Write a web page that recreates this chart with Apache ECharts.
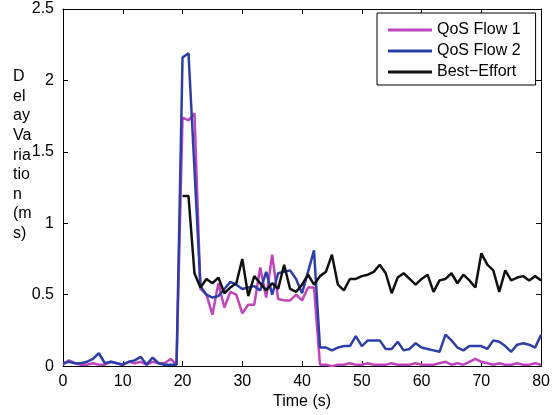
<!DOCTYPE html>
<html>
<head>
<meta charset="utf-8">
<script src="https://cdn.jsdelivr.net/npm/echarts@6/dist/echarts.min.js"></script>
<style>
  html, body { margin: 0; padding: 0; background: #fff; }
  #chart { width: 553px; height: 415px; }
</style>
</head>
<body>
<div id="chart"></div>
<script>
// Sample times (s), one sample per second
const seconds = [0,1,2,3,4,5,6,7,8,9,10,11,12,13,14,15,16,17,18,19,20,
  21,22,23,24,25,26,27,28,29,30,31,32,33,34,35,36,37,38,39,40,
  41,42,43,44,45,46,47,48,49,50,51,52,53,54,55,56,57,58,59,60,
  61,62,63,64,65,66,67,68,69,70,71,72,73,74,75,76,77,78,79,80];

// Delay variation (ms) per flow
const qosFlow1 = [0.01,0.04,0.02,0.01,0.01,0.02,0.01,0.01,0.03,0.02,0.01,
  0.03,0.02,0.03,0.01,0.03,0.02,0.02,0.05,0.01,1.74,
  1.72,1.77,0.54,0.50,0.36,0.58,0.41,0.52,0.50,0.37,
  0.43,0.43,0.69,0.48,0.78,0.47,0.46,0.46,0.50,0.46,
  0.55,0.55,0.01,0.01,0.00,0.01,0.01,0.02,0.01,0.01,
  0.02,0.01,0.01,0.01,0.02,0.01,0.01,0.01,0.02,0.01,
  0.01,0.01,0.02,0.03,0.01,0.02,0.01,0.03,0.05,0.03,
  0.02,0.01,0.02,0.01,0.01,0.02,0.01,0.01,0.02,0.01];

const qosFlow2 = [0.02,0.03,0.02,0.02,0.03,0.05,0.09,0.02,0.03,0.02,0.01,
  0.03,0.04,0.065,0.01,0.06,0.02,0.01,0.01,0.01,2.16,
  2.19,1.38,0.56,0.50,0.48,0.49,0.54,0.59,0.57,0.54,
  0.55,0.56,0.53,0.66,0.50,0.65,0.66,0.67,0.61,0.51,
  0.66,0.81,0.13,0.13,0.11,0.13,0.14,0.14,0.21,0.14,
  0.18,0.18,0.18,0.12,0.12,0.17,0.11,0.12,0.16,0.13,
  0.12,0.11,0.10,0.22,0.18,0.13,0.11,0.14,0.14,0.14,
  0.12,0.18,0.17,0.14,0.10,0.15,0.16,0.15,0.13,0.22];

// Best-effort traffic starts at t = 20 s
const bestEffort = [null,null,null,null,null,null,null,null,null,null,null,
  null,null,null,null,null,null,null,null,null,1.19,
  1.19,0.65,0.55,0.61,0.58,0.62,0.51,0.55,0.58,0.75,
  0.49,0.63,0.58,0.53,0.58,0.54,0.71,0.54,0.52,0.57,
  0.64,0.57,0.63,0.66,0.78,0.57,0.53,0.61,0.61,0.63,
  0.64,0.66,0.71,0.65,0.51,0.62,0.65,0.61,0.57,0.61,
  0.64,0.52,0.60,0.61,0.65,0.58,0.64,0.60,0.55,0.79,
  0.71,0.67,0.52,0.67,0.60,0.62,0.63,0.60,0.63,0.60];

const seriesNames = ['QoS Flow 1', 'QoS Flow 2', 'Best\u2212Effort'];
const seriesColors = ['#C045BC', '#2C3FA8', '#111111'];
const yLabelLines = ['D', 'el', 'ay', 'Va', 'ria', 'tio', 'n', '(m', 's)'];

const FONT = 'Liberation Sans, Arial, Helvetica, sans-serif';
const FS = 16;

function pairs(values) {
  return seconds.map((t, i) => [t, values[i]]);
}

const tickStyle = { inside: true, length: 5, lineStyle: { color: '#000', width: 1 } };
const boxLine = { show: true, onZero: false, lineStyle: { color: '#000', width: 1 } };

const chart = echarts.init(document.getElementById('chart'), null, { renderer: 'canvas' });

chart.setOption({
  animation: false,
  backgroundColor: '#fff',
  textStyle: { fontFamily: FONT },
  grid: { left: 63, right: 10, top: 9, bottom: 43, containLabel: false },
  legend: {
    left: 377, top: 13,
    orient: 'vertical',
    backgroundColor: '#fff',
    borderColor: '#000', borderWidth: 1, borderRadius: 0,
    padding: [8, 15, 4, 11],
    itemGap: 3,
    itemWidth: 44, itemHeight: 3,
    icon: 'rect',
    textStyle: { fontFamily: FONT, fontSize: FS, color: '#000', lineHeight: 18 },
    data: seriesNames
  },
  xAxis: [
    {
      type: 'value', min: 0, max: 80, interval: 10, position: 'bottom',
      name: 'Time (s)', nameLocation: 'middle', nameGap: 24,
      nameTextStyle: { fontFamily: FONT, fontSize: FS, color: '#000' },
      axisLine: boxLine, axisTick: tickStyle,
      axisLabel: { fontFamily: FONT, fontSize: FS, color: '#000', margin: 7 },
      splitLine: { show: false }
    },
    {
      type: 'value', min: 0, max: 80, interval: 10, position: 'top',
      axisLine: boxLine, axisTick: tickStyle,
      axisLabel: { show: false }, splitLine: { show: false }
    }
  ],
  yAxis: [
    {
      type: 'value', min: 0, max: 2.5, interval: 0.5, position: 'left',
      axisLine: boxLine, axisTick: tickStyle,
      axisLabel: { fontFamily: FONT, fontSize: FS, color: '#000', margin: 9 },
      splitLine: { show: false }
    },
    {
      type: 'value', min: 0, max: 2.5, interval: 0.5, position: 'right',
      axisLine: boxLine, axisTick: tickStyle,
      axisLabel: { show: false }, splitLine: { show: false }
    }
  ],
  graphic: [{
    type: 'text', left: 13, top: 67,
    style: {
      text: yLabelLines.join('\n'),
      font: FS + 'px ' + FONT,
      fill: '#000',
      lineHeight: 19.6
    }
  }],
  series: [qosFlow1, qosFlow2, bestEffort].map((vals, i) => ({
    name: seriesNames[i],
    type: 'line',
    data: pairs(vals),
    showSymbol: false,
    symbol: 'none',
    connectNulls: false,
    lineStyle: { color: seriesColors[i], width: 2.5 },
    itemStyle: { color: seriesColors[i] },
    z: 2 + i
  }))
});
</script>
</body>
</html>
